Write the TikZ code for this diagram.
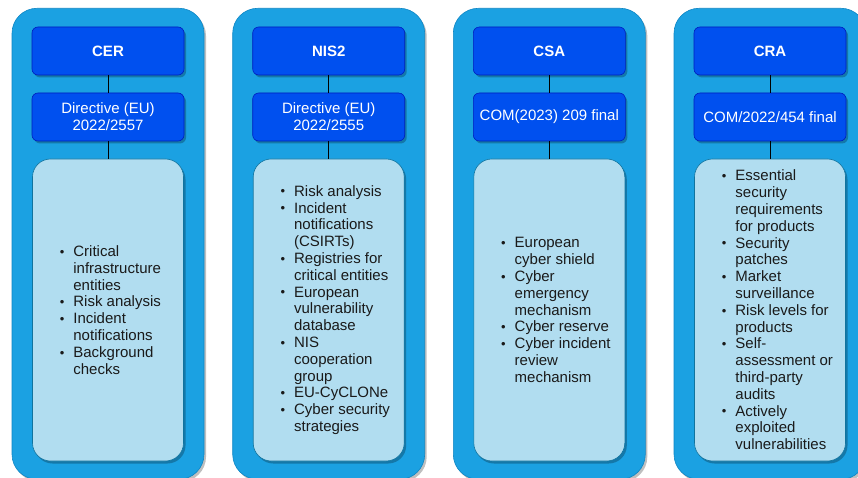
\documentclass[tikz,border=0pt]{standalone}
\usepackage{fontspec}
\setmainfont{Liberation Sans}
\usetikzlibrary{shadows}
\definecolor{outerfill}{HTML}{1BA1E2}
\definecolor{outerdraw}{HTML}{0E86C4}
\definecolor{headfill}{HTML}{0050EF}
\definecolor{headdraw}{HTML}{001DBC}
\definecolor{innerfill}{HTML}{B1DDF0}
\definecolor{innerdraw}{HTML}{10739E}
\definecolor{txt}{HTML}{1A1A1A}
\newcommand\lbul{\llap{\raisebox{0.3pt}{\fontsize{13}{13}\selectfont\textbullet}\hspace{9pt}}}
\tikzset{
  shad/.style={drop shadow={shadow xshift=2pt, shadow yshift=-2.5pt, opacity=0.25, fill=black}},
  outerbox/.style={draw=outerdraw, fill=outerfill, rounded corners=25pt, minimum width=192pt, minimum height=471pt, line width=0.6pt, anchor=north, inner sep=0pt, shad},
  headbox/.style={draw=headdraw, fill=headfill, rounded corners=6pt, minimum width=152pt, minimum height=48pt, text=white, font=\fontsize{15}{16.8}\selectfont, align=center, inner sep=0pt, line width=0.6pt, shad},
  innerbox/.style={draw=innerdraw, fill=innerfill, rounded corners=18pt, minimum width=151pt, minimum height=302pt, inner sep=0pt, line width=0.6pt, shad},
  listtext/.style={anchor=west, inner sep=0pt, text=txt, font=\fontsize{15}{16.8}\selectfont, align=left},
  link/.style={draw=black, line width=0.9pt}
}
\begin{document}
\begin{tikzpicture}[x=1pt, y=-1pt]
\useasboundingbox (0,0) rectangle (858,478);
\clip (0,0) rectangle (858,478);
% columns
\foreach \cx/\nm in {108/1, 328.7/2, 549.3/3, 770/4} {
  \node[outerbox] (out\nm) at (\cx,8) {};
}
% CER
\node[headbox] (ha1) at (108,51) {\textbf{CER}};
\node[headbox] (hb1) at (108,117) {Directive (EU)\\2022/2557};
\node[innerbox] (in1) at (108,310) {};
\node[listtext, xshift=41pt] (l1) at (in1.west) {\lbul Critical\\infrastructure\\entities\\\lbul Risk analysis\\\lbul Incident\\notifications\\\lbul Background\\checks};
% NIS2
\node[headbox] (ha2) at (328.7,51) {\textbf{NIS2}};
\node[headbox] (hb2) at (328.7,117) {Directive (EU)\\2022/2555};
\node[innerbox] (in2) at (328.7,310) {};
\node[listtext, xshift=41pt] (l2) at (in2.west) {\lbul Risk analysis\\\lbul Incident\\notifications\\(CSIRTs)\\\lbul Registries for\\critical entities\\\lbul European\\vulnerability\\database\\\lbul NIS\\cooperation\\group\\\lbul EU-CyCLONe\\\lbul Cyber security\\strategies};
% CSA
\node[headbox] (ha3) at (549.3,51) {\textbf{CSA}};
\node[headbox] (hb3) at (549.3,117) {COM(2023) 209 final};
\node[innerbox] (in3) at (549.3,310) {};
\node[listtext, xshift=41pt] (l3) at (in3.west) {\lbul European\\cyber shield\\\lbul Cyber\\emergency\\mechanism\\\lbul Cyber reserve\\\lbul Cyber incident\\review\\mechanism};
% CRA
\node[headbox] (ha4) at (770,51) {\textbf{CRA}};
\node[headbox] (hb4) at (770,117) {COM/2022/454 final};
\node[innerbox] (in4) at (770,310) {};
\node[listtext, xshift=41pt] (l4) at (in4.west) {\lbul Essential\\security\\requirements\\for products\\\lbul Security\\patches\\\lbul Market\\surveillance\\\lbul Risk levels for\\products\\\lbul Self-\\assessment or\\third-party\\audits\\\lbul Actively\\exploited\\vulnerabilities};
% connectors
\foreach \i in {1,2,3,4} {
  \draw[link] (ha\i) -- (hb\i);
  \draw[link] (hb\i) -- (in\i);
}
\end{tikzpicture}
\end{document}
